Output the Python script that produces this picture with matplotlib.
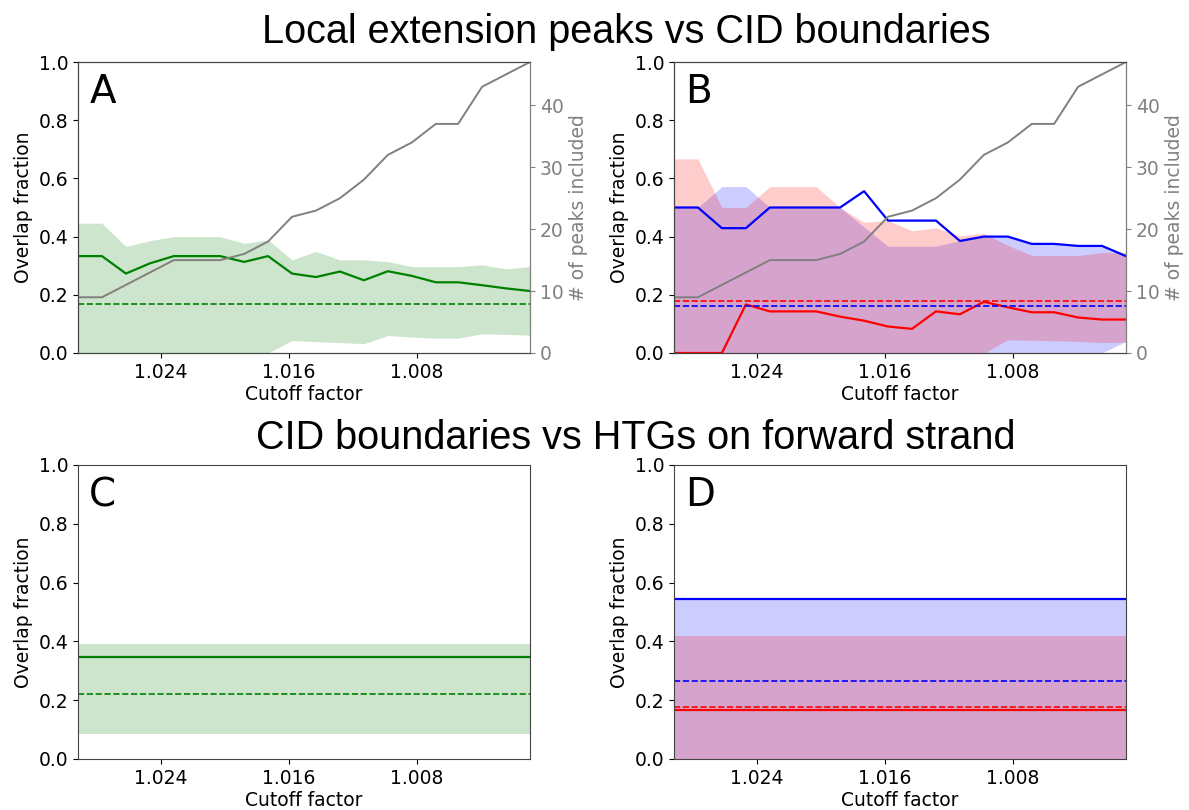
import numpy as np
import matplotlib.pyplot as plt
from matplotlib.ticker import FormatStrFormatter

plt.rcParams['font.size'] = 13.5

# cutoff factors (x)
cutoffs = [1.0292, 1.0277, 1.0262, 1.0247, 1.0232, 1.0217, 1.0203, 1.0188, 1.0173, 1.0158,
           1.0143, 1.0128, 1.0113, 1.0098, 1.0083, 1.0068, 1.0054, 1.0039, 1.0024, 1.0009]
peaks_included = [9, 9, 11, 13, 15, 15, 15, 16, 18, 22, 23, 25, 28, 32, 34, 37, 37, 43, 45, 47]

# panel A
a_mean = [0.333, 0.333, 0.273, 0.308, 0.333, 0.333, 0.333, 0.313, 0.333, 0.273,
          0.261, 0.280, 0.250, 0.281, 0.265, 0.243, 0.243, 0.233, 0.222, 0.213]
a_hi = [0.446, 0.446, 0.366, 0.386, 0.400, 0.400, 0.400, 0.377, 0.389, 0.320,
        0.349, 0.320, 0.320, 0.314, 0.297, 0.297, 0.297, 0.303, 0.289, 0.297]
a_lo = [0, 0, 0, 0, 0, 0, 0, 0, 0, 0.043,
        0.039, 0.036, 0.032, 0.060, 0.055, 0.051, 0.051, 0.066, 0.064, 0.061]
a_random = 0.170

# panel B
b_blue_mean = [0.500, 0.500, 0.429, 0.429, 0.500, 0.500, 0.500, 0.500, 0.556, 0.455,
               0.455, 0.455, 0.385, 0.400, 0.400, 0.375, 0.375, 0.368, 0.368, 0.333]
b_blue_hi = [0.500, 0.500, 0.572, 0.572, 0.500, 0.500, 0.500, 0.500, 0.433, 0.367,
             0.367, 0.367, 0.386, 0.400, 0.400, 0.377, 0.377, 0.368, 0.368, 0.333]
b_blue_lo = [0, 0, 0, 0, 0, 0, 0, 0, 0, 0,
             0, 0, 0, 0, 0, 0, 0, 0, 0, 0.040]
b_red_mean = [0, 0, 0, 0.167, 0.143, 0.143, 0.143, 0.125, 0.111, 0.091,
              0.083, 0.143, 0.133, 0.176, 0.157, 0.140, 0.140, 0.122, 0.115, 0.115]
b_red_hi = [0.667, 0.667, 0.500, 0.500, 0.572, 0.572, 0.572, 0.500, 0.449, 0.455,
            0.420, 0.430, 0.403, 0.411, 0.370, 0.335, 0.335, 0.335, 0.345, 0.345]
b_red_lo = [0, 0, 0, 0, 0, 0, 0, 0, 0, 0,
            0, 0, 0, 0, 0.045, 0.044, 0.042, 0.040, 0.036, 0.037]
b_blue_random = 0.162
b_red_random = 0.177

# panel C
c_mean = 0.347
c_hi = 0.390
c_lo = 0.086
c_random = 0.222

# panel D
d_blue_mean = 0.544
d_blue_hi = 0.548
d_blue_lo = 0.0
d_red_mean = 0.166
d_red_hi = 0.417
d_red_lo = 0.0
d_blue_random = 0.265
d_red_random = 0.177

W, H = 1189, 810
fig = plt.figure(figsize=(W / 100, H / 100), dpi=100)


def box(left, top, right, bottom):
    return [left / W, 1 - bottom / H, (right - left) / W, (bottom - top) / H]


axA = fig.add_axes(box(78, 62, 530, 353))
axB = fig.add_axes(box(674, 62, 1126, 353))
axC = fig.add_axes(box(78, 465, 530, 759))
axD = fig.add_axes(box(674, 465, 1126, 759))


def style(ax, letter):
    ax.set_xlim(cutoffs[0], cutoffs[-1])
    ax.set_ylim(0, 1)
    ax.set_xticks([1.024, 1.016, 1.008])
    ax.xaxis.set_major_formatter(FormatStrFormatter('%.3f'))
    ax.set_yticks(np.arange(0, 1.01, 0.2))
    ax.yaxis.set_major_formatter(FormatStrFormatter('%.1f'))
    ax.set_xlabel('Cutoff factor', labelpad=2)
    ax.set_ylabel('Overlap fraction')
    for s in ax.spines.values():
        s.set_color('#444444')
    ax.text(0.025, 0.86, letter, transform=ax.transAxes, fontsize=28, va='baseline')


def peaks_axis(ax):
    ax2 = ax.twinx()
    ax2.plot(cutoffs, peaks_included, color='gray', lw=1.4)
    ax2.set_ylim(0, max(peaks_included))
    ax2.set_yticks([0, 10, 20, 30, 40])
    ax2.tick_params(axis='y', colors='gray')
    ax2.set_ylabel('# of peaks included', color='gray')
    ax2.spines['right'].set_color('gray')
    ax2.spines['top'].set_color('#444444')
    ax2.spines['left'].set_color('#444444')
    ax2.spines['bottom'].set_color('#444444')
    return ax2


# A
axA.fill_between(cutoffs, a_lo, a_hi, color='green', alpha=0.2, lw=0)
axA.plot(cutoffs, a_mean, color='green', lw=1.6)
axA.axhline(a_random, color='green', ls='--', lw=1.2)
style(axA, 'A')
peaks_axis(axA)

# B
axB.fill_between(cutoffs, b_blue_lo, b_blue_hi, color='blue', alpha=0.2, lw=0)
axB.fill_between(cutoffs, b_red_lo, b_red_hi, color='red', alpha=0.2, lw=0)
axB.plot(cutoffs, b_red_mean, color='red', lw=1.6)
axB.plot(cutoffs, b_blue_mean, color='blue', lw=1.6)
axB.axhline(b_red_random, color='red', ls='--', lw=1.2)
axB.axhline(b_blue_random, color='blue', ls='--', lw=1.2)
style(axB, 'B')
peaks_axis(axB)

# C
axC.fill_between(cutoffs, c_lo, c_hi, color='green', alpha=0.2, lw=0)
axC.axhline(c_mean, color='green', lw=1.6)
axC.axhline(c_random, color='green', ls='--', lw=1.2)
style(axC, 'C')

# D
axD.fill_between(cutoffs, d_blue_lo, d_blue_hi, color='blue', alpha=0.2, lw=0)
axD.fill_between(cutoffs, d_red_lo, d_red_hi, color='red', alpha=0.2, lw=0)
axD.axhline(d_red_mean, color='red', lw=1.6)
axD.axhline(d_blue_mean, color='blue', lw=1.6)
axD.axhline(d_red_random, color='red', ls='--', lw=1.2)
axD.axhline(d_blue_random, color='blue', ls='--', lw=1.2)
style(axD, 'D')

fig.text(0.527, 1 - 43 / H, 'Local extension peaks vs CID boundaries',
         ha='center', va='baseline', fontsize=28.5, family='Liberation Sans')
fig.text(0.535, 1 - 449 / H, 'CID boundaries vs HTGs on forward strand',
         ha='center', va='baseline', fontsize=28.5, family='Liberation Sans')

fig.savefig('out.png', dpi=100)
